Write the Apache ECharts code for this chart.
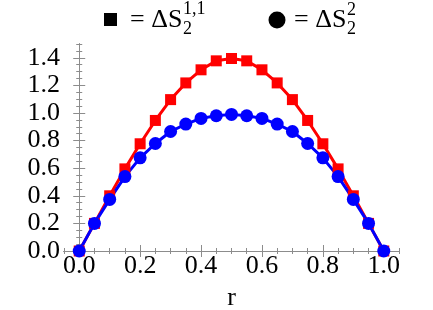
<!DOCTYPE html>
<html>
<head>
<meta charset="utf-8">
<script src="https://cdn.jsdelivr.net/npm/echarts@6/dist/echarts.min.js"></script>
<style>html,body{margin:0;padding:0;background:#fff}#c{width:433px;height:310px}</style>
</head>
<body>
<div id="c"></div>
<script>
var rValues = [0, 0.05, 0.1, 0.15, 0.2, 0.25, 0.3, 0.35, 0.4, 0.45, 0.5, 0.55, 0.6, 0.65, 0.7, 0.75, 0.8, 0.85, 0.9, 0.95, 1.0];
var dS11 = [0, 0.20, 0.40, 0.595, 0.777, 0.946, 1.097, 1.218, 1.313, 1.378, 1.395, 1.378, 1.313, 1.218, 1.097, 0.946, 0.777, 0.595, 0.40, 0.20, 0];
var dS2 = [0, 0.20, 0.374, 0.539, 0.675, 0.779, 0.866, 0.92, 0.961, 0.98, 0.99, 0.98, 0.961, 0.92, 0.866, 0.779, 0.675, 0.539, 0.374, 0.20, 0];
var xMajorTicks = [0, 0.2, 0.4, 0.6, 0.8, 1.0];
var xMinorTicks = [-0.05, 0.05, 0.1, 0.15, 0.25, 0.3, 0.35, 0.45, 0.5, 0.55, 0.65, 0.7, 0.75, 0.85, 0.9, 0.95, 1.05];
var yMajorTicks = [0, 0.2, 0.4, 0.6, 0.8, 1.0, 1.2, 1.4];
var yMinorTicks = [0.05, 0.1, 0.15, 0.25, 0.3, 0.35, 0.45, 0.5, 0.55, 0.65, 0.7, 0.75, 0.85, 0.9, 0.95, 1.05, 1.1, 1.15, 1.25, 1.3, 1.35, 1.45, 1.5];
var xName = 'r';

var FONT = 'Liberation Serif';
var FRAME = '#8c8c8c';

function pairs(xs, ys) { return xs.map(function (x, i) { return [x, ys[i]]; }); }

function xAx(pos, major, show) {
  return {
    type: 'value', position: pos, min: -0.05, max: 1.05,
    axisLine: { show: true, lineStyle: { color: FRAME, width: 1 } },
    splitLine: { show: false },
    axisTick: { show: true, inside: true, length: major ? 6 : 3, customValues: major ? xMajorTicks : xMinorTicks, lineStyle: { color: FRAME } },
    axisLabel: show ? { show: true, customValues: xMajorTicks, margin: 2, fontFamily: FONT, fontSize: 26, color: '#000', formatter: function (v) { return v.toFixed(1); } } : { show: false },
    name: show ? xName : '', nameLocation: 'middle', nameGap: 34,
    nameTextStyle: { fontFamily: FONT, fontSize: 26, color: '#000' }
  };
}
function yAx(pos, major, show) {
  return {
    type: 'value', position: pos, min: 0, max: 1.5,
    axisLine: { show: true, lineStyle: { color: FRAME, width: 1 } },
    splitLine: { show: false },
    axisTick: { show: true, inside: true, length: major ? 6 : 3, customValues: major ? yMajorTicks : yMinorTicks, lineStyle: { color: FRAME } },
    axisLabel: show ? { show: true, customValues: yMajorTicks, margin: 4, fontFamily: FONT, fontSize: 26, color: '#000', formatter: function (v) { return v.toFixed(1); } } : { show: false }
  };
}

var chart = echarts.init(document.getElementById('c'), null, { renderer: 'canvas' });
chart.setOption({
  animation: false,
  backgroundColor: '#fff',
  textStyle: { fontFamily: FONT },
  grid: { left: 64, right: 34, top: 44, bottom: 59, containLabel: false, outerBoundsMode: 'none' },
  xAxis: [xAx('bottom', true, true), xAx('bottom', false, false), xAx('top', true, false), xAx('top', false, false)],
  yAxis: [yAx('left', true, true), yAx('left', false, false), yAx('right', true, false), yAx('right', false, false)],
  series: [
    { name: 'dS11', type: 'line', data: pairs(rValues, dS11), symbol: 'rect', symbolSize: 11,
      lineStyle: { color: '#ff0000', width: 3 }, itemStyle: { color: '#ff0000' } },
    { name: 'dS2', type: 'line', data: pairs(rValues, dS2), symbol: 'circle', symbolSize: 13,
      lineStyle: { color: '#0000ff', width: 3 }, itemStyle: { color: '#0000ff' } }
  ],
  graphic: [
    { type: 'rect', shape: { x: 104, y: 13, width: 13, height: 13 }, style: { fill: '#000' } },
    { type: 'text', x: 130, y: 20, style: { text: '= ΔS', font: '26px Liberation Serif', fill: '#000', verticalAlign: 'middle' } },
    { type: 'text', x: 183, y: 29, style: { text: '2', font: '18px Liberation Serif', fill: '#000', verticalAlign: 'middle' } },
    { type: 'text', x: 183, y: 9, style: { text: '1,1', font: '18px Liberation Serif', fill: '#000', verticalAlign: 'middle' } },
    { type: 'circle', shape: { cx: 277, cy: 20, r: 8.5 }, style: { fill: '#000' } },
    { type: 'text', x: 294, y: 20, style: { text: '= ΔS', font: '26px Liberation Serif', fill: '#000', verticalAlign: 'middle' } },
    { type: 'text', x: 347, y: 29, style: { text: '2', font: '18px Liberation Serif', fill: '#000', verticalAlign: 'middle' } },
    { type: 'text', x: 347, y: 10, style: { text: '2', font: '18px Liberation Serif', fill: '#000', verticalAlign: 'middle' } }
  ]
});
</script>
</body>
</html>
